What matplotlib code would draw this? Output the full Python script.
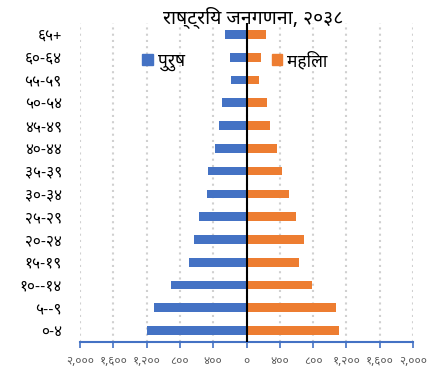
import matplotlib
matplotlib.use("Agg")
import matplotlib.pyplot as plt
from matplotlib.patches import Patch
from matplotlib.ticker import FuncFormatter, MultipleLocator

plt.rcParams['font.family'] = ['Noto Sans Devanagari', 'DejaVu Sans']

AGES = ["०-४", "५--९", "१०--१४", "१५-१९", "२०-२४", "२५-२९", "३०-३४",
        "३५-३९", "४०-४४", "४५-४९", "५०-५४", "५५-५९", "६०-६४", "६५+"]
MALE = [1190, 1110, 910, 685, 635, 570, 470, 460, 375, 335, 290, 185, 195, 260]
FEMALE = [1115, 1070, 790, 630, 695, 590, 505, 430, 370, 285, 250, 155, 175, 230]
BLUE, ORANGE = "#4472C4", "#ED7D31"
DEVA = str.maketrans("0123456789", "०१२३४५६७८९")

fig = plt.figure(figsize=(4.29, 3.7), dpi=100)
ax = fig.add_axes([0.1865, 0.0757, 0.7762, 0.862])
y = range(len(AGES))
ax.barh(y, [-m for m in MALE], height=0.38, color=BLUE, zorder=2)
ax.barh(y, FEMALE, height=0.38, color=ORANGE, zorder=2)
ax.axvline(0, color="black", lw=1.5, zorder=3)

ax.set_xlim(-2000, 2000); ax.set_ylim(-0.5, 13.5)
ax.xaxis.set_major_locator(MultipleLocator(400))
ax.xaxis.set_major_formatter(FuncFormatter(lambda v, p: f"{abs(int(round(v))):,}".translate(DEVA)))
ax.set_yticks(list(y)); ax.set_yticklabels(AGES, fontsize=11)
ax.tick_params(axis="y", length=0, pad=13)
ax.tick_params(axis="x", colors=BLUE, length=4, width=1.2, labelsize=8.5, labelcolor="#595959", pad=5)
ax.grid(axis="x", color="#D0D0D0", ls=(0, (1, 2)), lw=1.5, zorder=0)
for s in ["top", "left", "right"]:
    ax.spines[s].set_visible(False)
ax.spines["bottom"].set_color(BLUE); ax.spines["bottom"].set_linewidth(1.5)

h = [Patch(color=BLUE, label="पुरुष"), Patch(color=ORANGE, label="महिला")]
ax.legend(handles=h, loc="upper left", bbox_to_anchor=(0.14, 0.96), ncol=2, frameon=False,
          fontsize=12.5, columnspacing=5.0, handlelength=0.6, handleheight=0.6, handletextpad=0.3)
fig.text(0.59, 0.955, "राष्ट्रिय जनगणना, २०३८", ha="center", va="center", fontsize=14)
fig.savefig("out.png", dpi=100)
